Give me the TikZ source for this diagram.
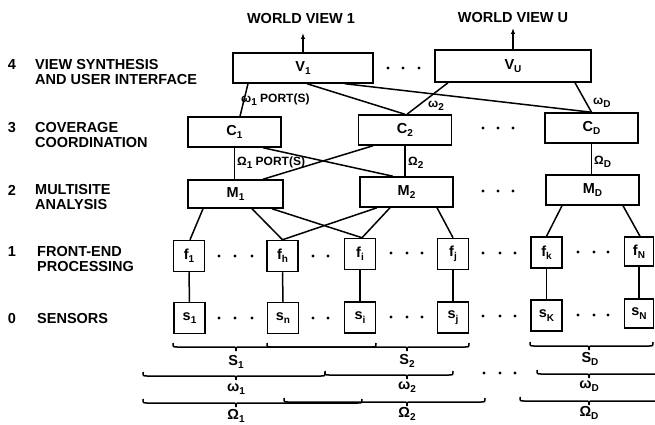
\documentclass[tikz,border=0pt]{standalone}
\usepackage{fontspec}
\setmainfont{Liberation Sans}
\usetikzlibrary{arrows.meta}
\newcommand\sbs[1]{\raisebox{-0.45ex}{\fontsize{10}{10}\selectfont #1}}
\newcommand\ubr[4]{% x1, xtip, x2, y
  \draw[link] (#1,#4-4) .. controls (#1,#4) .. (#1+4,#4) -- (#2-4,#4)
    .. controls (#2,#4) .. (#2,#4+4) .. controls (#2,#4) .. (#2+4,#4)
    -- (#3-4,#4) .. controls (#3,#4) .. (#3,#4-4);}
\begin{document}
\begin{tikzpicture}[x=1pt,y=-1pt,
  txt/.style={font=\bfseries\fontsize{14.5}{15}\selectfont, inner sep=0pt},
  box/.style={draw, line width=1.5pt, minimum height=30pt, inner sep=0pt, txt},
  wide/.style={box, minimum width=93pt},
  sq/.style={box, minimum width=31pt, minimum height=31pt},
  lbl/.style={txt, align=left, anchor=west},
  port/.style={font=\bfseries\fontsize{12}{12}\selectfont, anchor=west, inner sep=0pt},
  link/.style={line width=1.5pt},
  arr/.style={link, -{Latex[length=6pt,width=4.5pt]}}]
\useasboundingbox (0,0) rectangle (655,425);
\clip (0,0) rectangle (655,425);

% left labels
\node[txt] (n4) at (12,65) {4};
\node[lbl] (l4) at (35,72.5) {VIEW SYNTHESIS\\AND USER INTERFACE};
\node[txt] (n3) at (12,128) {3};
\node[lbl] (l3) at (35,135.5) {COVERAGE\\COORDINATION};
\node[txt] (n2) at (12,190) {2};
\node[lbl] (l2) at (35,197.5) {MULTISITE\\ANALYSIS};
\node[txt] (n1) at (12,252) {1};
\node[lbl] (l1) at (37,259) {FRONT-END\\PROCESSING};
\node[txt] (n0) at (12,319) {0};
\node[lbl] (l0) at (37,319) {SENSORS};

% level 4
\node[box, minimum width=140pt] (V1) at (303,68) {V\sbs{1}};
\node[box, minimum width=156pt, minimum height=32pt] (VU) at (513,66) {V\sbs{U}};
\coordinate (wv1) at (303,33);
\coordinate (wvu) at (513,28);
\draw[arr] (V1.north) -- (wv1);
\draw[arr] (VU.north) -- (wvu);
\node[txt] (t1) at (301,19) {WORLD VIEW 1};
\node[txt] (tu) at (513,18) {WORLD VIEW U};

% level 3
\node[wide] (C1) at (234.5,132) {C\sbs{1}};
\node[wide] (C2) at (405,130) {C\sbs{2}};
\node[wide] (CD) at (591.5,128) {C\sbs{D}};

% level 2
\node[wide, minimum width=95pt, minimum height=28pt] (M1) at (235.5,194) {M\sbs{1}};
\node[wide] (M2) at (406.5,192) {M\sbs{2}};
\node[wide] (MD) at (592.5,190) {M\sbs{D}};

% level 1
\node[sq] (f1) at (189,256) {f\sbs{1}};
\node[sq] (fh) at (282.5,256) {f\sbs{h}};
\node[sq] (fi) at (360,254) {f\sbs{i}};
\node[sq] (fj) at (453,254) {f\sbs{j}};
\node[sq] (fk) at (546.5,252.5) {f\sbs{k}};
\node[sq, minimum width=29pt, minimum height=29pt] (fN) at (639,251.5) {f\sbs{N}};

% level 0
\node[sq] (s1) at (189.5,318) {s\sbs{1}};
\node[sq] (sn) at (283,318) {s\sbs{n}};
\node[sq] (si) at (360,317.5) {s\sbs{i}};
\node[sq] (sj) at (453,317.5) {s\sbs{j}};
\node[sq] (sK) at (546.5,315.5) {s\sbs{K}};
\node[sq, minimum width=29pt, minimum height=29pt] (sN) at (639,313.5) {s\sbs{N}};

% V - C links
\draw[link] ([xshift=-55pt]V1.south) -- ([xshift=5.5pt]C1.north);
\draw[link] ([xshift=4pt]V1.south) -- (C2.north);
\draw[link] ([xshift=42pt]V1.south) -- (CD.north);
\draw[link] ([xshift=-65pt]VU.south) -- ([xshift=2pt]C2.north);
\draw[link] ([xshift=62pt]VU.south) -- (CD.north);
\node[port] (p1) at (241,100) {ω\sbs{1} PORT(S)};
\node[port] (p2) at (428,106) {ω\sbs{2}};
\node[port] (pD) at (593,103) {ω\sbs{D}};

% C - M links
\draw[link] (C1.south) -- (C1.south |- M1.north);
\draw[link] ([xshift=28.5pt]C1.south) -- ([xshift=-13.5pt]M2.north);
\draw[link] ([xshift=-32pt]C2.south) -- ([xshift=27.5pt]M1.north);
\draw[link] (C2.south) -- (C2.south |- M2.north);
\draw[link] (CD.south) -- (CD.south |- MD.north);
\node[port] (q1) at (237,163) {Ω\sbs{1} PORT(S)};
\node[port] (q2) at (408,163) {Ω\sbs{2}};
\node[port] (qD) at (594,162) {Ω\sbs{D}};

% M - f links
\draw[link] ([xshift=-32.5pt]M1.south) -- ([xshift=1pt]f1.north);
\draw[link] ([xshift=16.5pt]M1.south) -- (fh.north);
\draw[link] ([xshift=36.5pt]M1.south) -- ([xshift=2pt]fi.north);
\draw[link] ([xshift=-29.5pt]M2.south) -- (fh.north);
\draw[link] ([xshift=-16.5pt]M2.south) -- ([xshift=2pt]fi.north);
\draw[link] ([xshift=30.5pt]M2.south) -- (fj.north);
\draw[link] ([xshift=-30.5pt]MD.south) -- (fk.north);
\draw[link] ([xshift=30.5pt]MD.south) -- ([xshift=1pt]fN.north);

% f - s links
\foreach \a/\b in {f1/s1, fh/sn, fi/si, fj/sj, fk/sK, fN/sN}
  \draw[link] (\a.south) -- (\b.north);

% dots
\foreach \x/\y in {388/68, 403/68, 419/68,
  483/128, 498/128, 513/128,
  483/191, 498/191, 513/191,
  219/256, 235/256, 252/256, 313/256, 328/256,
  391/253, 407/253, 422/253, 483/253, 500/253, 515/253,
  578/252, 594/252, 608/252,
  219/318, 235/318, 252/318, 313/318, 328/318,
  391/317, 407/317, 422/317, 483/316, 500/316, 515/316,
  578/315, 594/315, 608/315,
  484/373, 500/373, 515/373}
  \fill (\x,\y) circle (1.6pt);

% braces
\ubr{173}{236}{376}{347}
\ubr{267}{407}{469}{347}
\ubr{530}{589}{653}{346}
\ubr{143}{236}{325}{376}
\ubr{325}{407}{453}{375}
\ubr{537}{589}{663}{374}
\ubr{143}{236}{362}{403}
\ubr{284}{407}{485}{402}
\ubr{520}{589}{663}{401}

\node[txt] (bS1) at (236,362) {S\sbs{1}};
\node[txt] (bS2) at (407,361) {S\sbs{2}};
\node[txt] (bSD) at (590,359) {S\sbs{D}};
\node[txt] (bw1) at (236,389) {ω\sbs{1}};
\node[txt] (bw2) at (407,387) {ω\sbs{2}};
\node[txt] (bwD) at (589,386) {ω\sbs{D}};
\node[txt] (bO1) at (236,416) {Ω\sbs{1}};
\node[txt] (bO2) at (407,414) {Ω\sbs{2}};
\node[txt] (bOD) at (589,413) {Ω\sbs{D}};
\end{tikzpicture}
\end{document}
